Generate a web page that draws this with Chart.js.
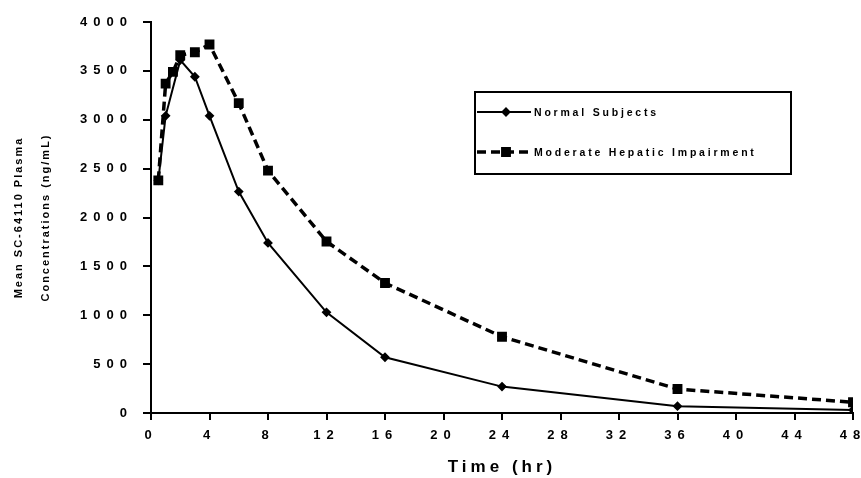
<!DOCTYPE html>
<html>
<head>
<meta charset="utf-8">
<script src="https://cdn.jsdelivr.net/npm/chart.js@4.4.1/dist/chart.umd.min.js"></script>
<style>
  html, body { margin: 0; padding: 0; background: #fff; }
</style>
</head>
<body>
<canvas id="myChart" width="861" height="478"></canvas>
<script>
// data
const normalTimes = [0.5, 1, 2, 3, 4, 6, 8, 12, 16, 24, 36, 48];
const normalConc = [2380, 3040, 3610, 3440, 3040, 2265, 1740, 1030, 570, 270, 70, 30];
const moderateTimes = [0.5, 1, 1.5, 2, 3, 4, 6, 8, 12, 16, 24, 36, 48];
const moderateConc = [2380, 3370, 3490, 3660, 3690, 3770, 3170, 2480, 1755, 1330, 780, 245, 110];
const seriesLabels = ['Normal Subjects', 'Moderate Hepatic Impairment'];
const timeTicks = [0, 4, 8, 12, 16, 20, 24, 28, 32, 36, 40, 44, 48];
const concTicks = [0, 500, 1000, 1500, 2000, 2500, 3000, 3500, 4000];

const toPoints = (xs, ys) => xs.map((x, i) => ({ x: x, y: ys[i] }));
const FONT = 'Arial, "Liberation Sans", sans-serif';

// wide letter spacing like the scanned original
const spacing = {
  id: 'spacing',
  afterLayout(chart) {
    for (const id of ['x', 'y']) {
      const sc = chart.scales[id];
      if (sc._spacingPatched) continue;
      const orig = sc.drawTitle.bind(sc);
      const ls = id === 'y' ? '2px' : '4px';
      sc.drawTitle = function (...args) {
        const c = this.ctx;
        const old = c.letterSpacing;
        c.letterSpacing = ls;
        orig(...args);
        c.letterSpacing = old;
      };
      sc._spacingPatched = true;
    }
  },
  beforeDraw(chart) {
    chart.ctx.letterSpacing = '6px';
  }
};

// boxed legend inside the plot
const legendBox = {
  id: 'legendBox',
  afterDraw(chart) {
    const c = chart.ctx;
    const x0 = 475, y0 = 92, w = 316, h = 82;
    c.save();
    c.letterSpacing = '2.8px';
    c.strokeStyle = '#000';
    c.fillStyle = '#000';
    c.lineWidth = 2;
    c.strokeRect(x0, y0, w, h);
    c.font = 'bold 10.5px ' + FONT;
    c.textBaseline = 'middle';
    chart.data.datasets.forEach((ds, i) => {
      const y = y0 + 20 + i * 40;
      c.setLineDash(ds.borderDash || []);
      c.lineWidth = ds.borderWidth;
      c.beginPath();
      c.moveTo(x0 + 2, y);
      c.lineTo(x0 + 56, y);
      c.stroke();
      c.setLineDash([]);
      Chart.helpers.drawPoint(c, { pointStyle: ds.pointStyle, radius: ds.pointRadius, borderWidth: 1, rotation: 0 }, x0 + 31, y);
      c.fillText(ds.label, x0 + 59, y + 1);
    });
    c.restore();
  }
};

const ctx = document.getElementById('myChart');
new Chart(ctx, {
  type: 'line',
  data: {
    datasets: [
      {
        label: seriesLabels[0],
        data: toPoints(normalTimes, normalConc),
        borderColor: '#000',
        backgroundColor: '#000',
        borderWidth: 2,
        pointStyle: 'rectRot',
        pointRadius: 3.5,
        tension: 0
      },
      {
        label: seriesLabels[1],
        data: toPoints(moderateTimes, moderateConc),
        borderColor: '#000',
        backgroundColor: '#000',
        borderWidth: 3.5,
        borderDash: [9, 5],
        pointStyle: 'rect',
        pointRadius: 4.5,
        tension: 0
      }
    ]
  },
  options: {
    responsive: false,
    animation: false,
    layout: { padding: { top: 22, right: 0, bottom: 0, left: 0 } },
    plugins: {
      legend: { display: false },
      tooltip: { enabled: false }
    },
    scales: {
      x: {
        type: 'linear',
        min: 0,
        max: 48,
        afterBuildTicks: s => { s.ticks = timeTicks.map(v => ({ value: v })); },
        afterFit: s => { s.height = 65; s.paddingRight = 8; s.paddingLeft = 0; },
        grid: { display: true, drawOnChartArea: false, drawTicks: true, tickLength: 7, color: '#000', lineWidth: 2 },
        border: { color: '#000', width: 2 },
        ticks: {
          color: '#000',
          padding: 8,
          maxRotation: 0,
          callback: v => String(v),
          font: { family: FONT, size: 13, weight: 'bold' }
        },
        title: {
          display: true,
          text: 'Time (hr)',
          color: '#000',
          padding: { top: 4, bottom: 0 },
          font: { family: FONT, size: 17, weight: 'bold' }
        }
      },
      y: {
        min: 0,
        max: 4000,
        afterBuildTicks: s => { s.ticks = concTicks.map(v => ({ value: v })); },
        afterFit: s => { s.width = 151; s.paddingTop = 0; },
        grid: { display: true, drawOnChartArea: false, drawTicks: true, tickLength: 8, color: '#000', lineWidth: 2 },
        border: { color: '#000', width: 2 },
        ticks: {
          color: '#000',
          padding: 10,
          callback: v => String(v),
          font: { family: FONT, size: 13, weight: 'bold' }
        },
        title: {
          display: true,
          text: ['Mean SC-64110 Plasma', 'Concentrations (ng/mL)'],
          color: '#000',
          padding: { top: 5, bottom: 0 },
          font: { family: FONT, size: 11, weight: 'bold', lineHeight: 2.5 }
        }
      }
    }
  },
  plugins: [spacing, legendBox]
});
</script>
</body>
</html>
